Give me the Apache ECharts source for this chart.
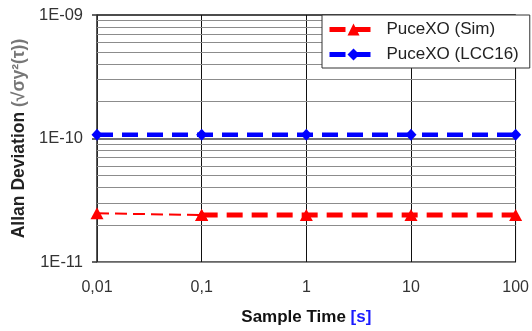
<!DOCTYPE html>
<html><head><meta charset="utf-8">
<script src="https://cdn.jsdelivr.net/npm/echarts@6/dist/echarts.min.js"></script>
<style>html,body{margin:0;padding:0;background:#fff}#c{width:532px;height:331px}</style>
</head><body><div id="c"></div>
<script>
var sampleTimes = [0.01, 0.1, 1, 10, 100];
var xTickLabels = ['0,01', '0,1', '1', '10', '100'];
var yTickLabels = ['1E-11', '1E-10', '1E-09'];
var simValues = [2.48e-11, 2.4e-11, 2.4e-11, 2.4e-11, 2.4e-11];
var lccValues = [1.07e-10, 1.07e-10, 1.07e-10, 1.07e-10, 1.07e-10];
var minorDecades = [1e-11, 1e-10];
var minorMultiples = [2, 3, 4, 5, 6, 7, 8, 9];

var xMin = sampleTimes[0], xMax = sampleTimes[sampleTimes.length - 1];
var minorLines = [];
minorDecades.forEach(function (d) {
  minorMultiples.forEach(function (m) {
    minorLines.push([{ coord: [xMin, d * m] }, { coord: [xMax, d * m] }]);
  });
});
function pairs(xs, ys) { return xs.map(function (x, i) { return [x, ys[i]]; }); }
var simPairs = pairs(sampleTimes, simValues);
var lccPairs = pairs(sampleTimes, lccValues);

var FONT = 'Liberation Sans';
var chart = echarts.init(document.getElementById('c'), null, { renderer: 'canvas' });
chart.setOption({
  animation: false,
  backgroundColor: '#fff',
  textStyle: { fontFamily: FONT },
  grid: { left: 97, right: 15, top: 15, bottom: 69, show: true, borderColor: '#999', borderWidth: 1 },
  legend: {
    left: 322, top: 15, orient: 'vertical', itemGap: 8,
    backgroundColor: '#fff', borderColor: '#333', borderWidth: 1,
    padding: [6, 11, 5, 5], itemWidth: 48, itemHeight: 15,
    lineStyle: { width: 5 },
    textStyle: { fontFamily: FONT, fontSize: 17, color: '#222', padding: [0, 0, 0, 4] },
    data: ['PuceXO (Sim)', 'PuceXO (LCC16)']
  },
  xAxis: {
    type: 'log', logBase: 10, min: 0.01, max: 100,
    axisLine: { show: true, lineStyle: { color: '#888', width: 1 } },
    axisTick: { show: false },
    axisLabel: { fontSize: 16, color: '#333', margin: 18, fontFamily: FONT,
      formatter: function (v, i) { return xTickLabels[i]; } },
    splitLine: { show: true, lineStyle: { color: '#111', width: 1 } },
    name: '{a|Sample Time }{b|[s]}', nameLocation: 'middle', nameGap: 47,
    nameTextStyle: { rich: {
      a: { fontSize: 17, fontWeight: 'bold', color: '#111', fontFamily: FONT },
      b: { fontSize: 17, fontWeight: 'bold', color: '#1a1aff', fontFamily: FONT } } }
  },
  yAxis: {
    type: 'log', logBase: 10, min: 1e-11, max: 1e-9,
    axisLine: { show: true, onZero: false, lineStyle: { color: '#333', width: 1.5 } },
    axisTick: { show: true, length: 5, inside: false, lineStyle: { color: '#333', width: 1.5 } },
    axisLabel: { fontSize: 16.5, color: '#333', margin: 14, fontFamily: FONT,
      formatter: function (v, i) { return yTickLabels[i]; } },
    splitLine: { show: true, lineStyle: { color: '#444', width: 1.5 } },
    name: '{a|Allan Deviation }{b|(√σy²(τ))}', nameLocation: 'middle', nameGap: 69, nameRotate: 90,
    nameTextStyle: { rich: {
      a: { fontSize: 17.5, fontWeight: 'bold', color: '#222', fontFamily: FONT },
      b: { fontSize: 17.5, fontWeight: 'bold', color: '#777', fontFamily: FONT } } }
  },
  series: [
    {
      name: 'simFirst', type: 'line', data: simPairs.slice(0, 2), z: 3,
      symbol: 'triangle', symbolSize: [13, 12], showSymbol: true,
      itemStyle: { color: '#ff0000' },
      lineStyle: { color: '#ff0000', width: 2, type: [12, 6] }
    },
    {
      name: 'PuceXO (LCC16)', type: 'line', data: lccPairs, z: 4,
      symbol: 'diamond', symbolSize: [11, 12],
      itemStyle: { color: '#0000ff' },
      lineStyle: { color: '#0000ff', width: 4.5, type: [16, 9] },
      markLine: { silent: true, symbol: 'none', animation: false, z: 1,
        label: { show: false },
        emphasis: { disabled: true },
        lineStyle: { color: '#8c8c8c', width: 1, type: 'solid' },
        data: minorLines }
    },
    {
      name: 'PuceXO (Sim)', type: 'line', data: simPairs.slice(1), z: 4,
      symbol: 'triangle', symbolSize: [13, 12],
      itemStyle: { color: '#ff0000' },
      lineStyle: { color: '#ff0000', width: 5, type: [16, 9] }
    }
  ]
});
</script></body></html>
